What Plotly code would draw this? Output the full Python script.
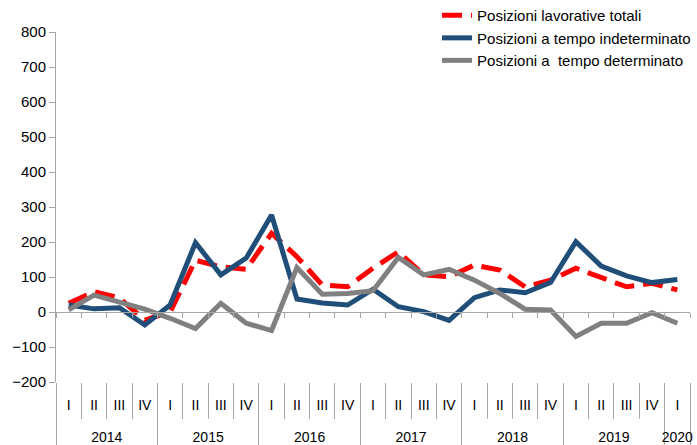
import plotly.graph_objects as go

anni = ["2014"] * 4 + ["2015"] * 4 + ["2016"] * 4 + ["2017"] * 4 + ["2018"] * 4 + ["2019"] * 4 + ["2020"]
trimestri = ["I", "II", "III", "IV"] * 6 + ["I"]

totali = [25, 58, 40, -23, 0, 148, 129, 122, 225, 158, 77, 72, 125,
          172, 106, 101, 134, 120, 72, 91, 125, 97, 72, 82, 63]
indeterminato = [20, 9, 12, -37, 20, 198, 106, 154, 277, 37, 26, 20, 65,
                 15, 1, -24, 41, 63, 55, 84, 201, 131, 103, 84, 93]
determinato = [6, 48, 28, 8, -18, -47, 25, -32, -53, 127, 51, 53, 61,
               156, 106, 122, 91, 53, 8, 6, -70, -32, -32, -2, -32]

# categorie univoche (anno + trimestre) e indice numerico dei trimestri
periodi = [f"{a} {q}" for a, q in zip(anni, trimestri)]
n = len(periodi)
indici = list(range(n))
xrange = [-0.5, n - 0.5]
confini_trimestri = [i - 0.5 for i in range(n + 1)]

# posizioni delle etichette degli anni e dei separatori tra anni
lista_anni = list(dict.fromkeys(anni))
centri_anni = []
confini_anni = [-0.5]
for a in lista_anni:
    idx = [i for i, v in enumerate(anni) if v == a]
    centri_anni.append(sum(idx) / len(idx))
    confini_anni.append(idx[-1] + 0.5)

axis_grey = "#A6A6A6"
font = "Liberation Sans, Arial, sans-serif"

fig = go.Figure()
fig.add_trace(go.Scatter(x=indici, y=totali, mode="lines", name="Posizioni lavorative totali",
                         line=dict(color="#FF0000", width=5, dash="20px,9px"),
                         xaxis="x", yaxis="y"))
fig.add_trace(go.Scatter(x=indici, y=indeterminato, mode="lines", name="Posizioni a tempo indeterminato",
                         line=dict(color="#1F4E79", width=5),
                         xaxis="x2", yaxis="y"))
fig.add_trace(go.Scatter(x=periodi, y=determinato, mode="lines", name="Posizioni a  tempo determinato",
                         line=dict(color="#808080", width=5),
                         xaxis="x3", yaxis="y"))

fig.update_layout(
    width=697, height=445,
    margin=dict(l=56, r=7, t=32, b=63, autoexpand=False),
    paper_bgcolor="white", plot_bgcolor="white",
    font=dict(family=font, size=15, color="black"),
    showlegend=True,
    legend=dict(x=0.601, y=1.094, xanchor="left", yanchor="top",
                bgcolor="rgba(0,0,0,0)", font=dict(size=15),
                tracegroupgap=0, itemwidth=30),
    # anni e separatori tra anni
    xaxis=dict(type="linear", range=xrange, showgrid=False, showline=False, zeroline=False,
               ticks="", tickmode="array", tickvals=centri_anni, ticktext=lista_anni,
               tickfont=dict(size=14), ticklabelstandoff=45,
               minor=dict(tickmode="array", tickvals=confini_anni, ticks="outside",
                          ticklen=63, tickcolor=axis_grey, showgrid=False),
               automargin=False),
    # trimestri e separatori dei trimestri
    xaxis2=dict(type="linear", range=xrange, overlaying="x", anchor="free", position=0,
                showgrid=False, showline=False, zeroline=False,
                ticks="", tickmode="array", tickvals=indici, ticktext=trimestri,
                tickfont=dict(size=14), ticklabelstandoff=13,
                minor=dict(tickmode="array", tickvals=confini_trimestri, ticks="outside",
                           ticklen=36, tickcolor=axis_grey, showgrid=False),
                automargin=False),
    # asse sullo zero
    xaxis3=dict(type="category", range=xrange, overlaying="x", anchor="free", position=0.2,
                showgrid=False, showline=True, linecolor=axis_grey, linewidth=1,
                ticks="outside", tickson="boundaries", ticklen=5, tickcolor=axis_grey,
                showticklabels=False, automargin=False),
    yaxis=dict(range=[-200, 800], dtick=100, showgrid=False, zeroline=False,
               showline=True, linecolor=axis_grey, ticks="outside", ticklen=6,
               tickcolor=axis_grey, tickfont=dict(size=15), automargin=False),
)

fig.write_html("out.html", config={"displayModeBar": False},
               post_script="document.body.style.margin='0';")
